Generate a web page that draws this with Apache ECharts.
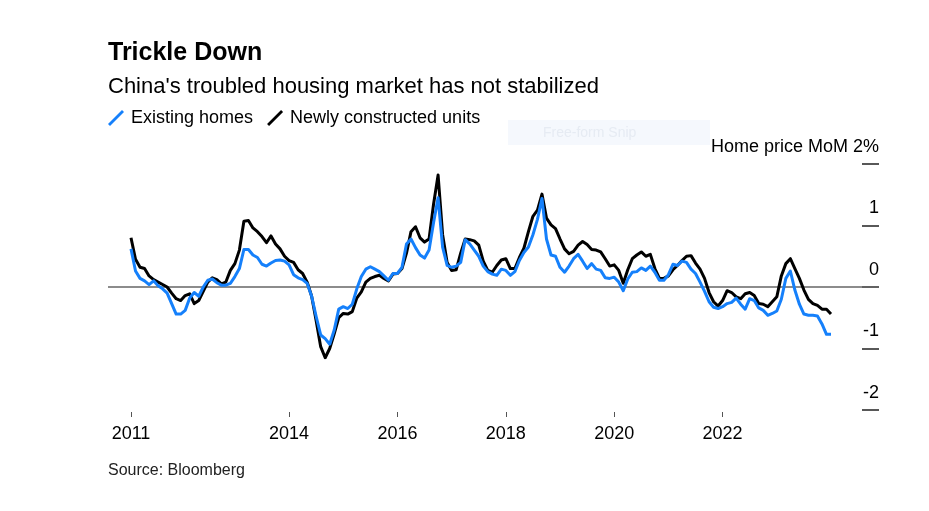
<!DOCTYPE html>
<html>
<head>
<meta charset="utf-8">
<script src="https://cdn.jsdelivr.net/npm/echarts@6/dist/echarts.min.js"></script>
<style>
html,body{margin:0;padding:0;background:#fff;}
#chart{width:929px;height:511px;}
</style>
</head>
<body>
<div id="chart"></div>
<script>
// Monthly categories: Feb 2011 .. Jan 2024
const months = [];
for (let y = 2011, m = 2; months.length < 156; ) {
  months.push(y + '-' + String(m).padStart(2, '0'));
  m++; if (m > 12) { m = 1; y++; }
}
const tickMonths = ['2011-02', '2014-01', '2016-01', '2018-01', '2020-01', '2022-01'];
const tickLabels = ['2011', '2014', '2016', '2018', '2020', '2022'];
const yTicks = [-2, -1, 0, 1, 2];

const existingHomes = [
  0.62,0.26,0.14,0.10,0.04,0.10,0.02,-0.03,-0.10,-0.27,
  -0.44,-0.44,-0.38,-0.18,-0.09,-0.15,0.00,0.11,0.13,0.07,
  0.03,0.03,0.06,0.17,0.30,0.61,0.61,0.52,0.48,0.37,
  0.34,0.39,0.43,0.44,0.42,0.36,0.20,0.15,0.12,0.06,
  -0.15,-0.48,-0.78,-0.84,-0.93,-0.70,-0.36,-0.32,-0.35,-0.28,
  -0.03,0.17,0.29,0.33,0.29,0.25,0.18,0.11,0.22,0.22,
  0.32,0.70,0.78,0.64,0.52,0.47,0.60,1.05,1.45,0.65,
  0.35,0.32,0.34,0.40,0.77,0.70,0.60,0.50,0.34,0.25,
  0.21,0.19,0.29,0.27,0.19,0.25,0.43,0.56,0.65,0.85,
  1.10,1.44,0.78,0.52,0.50,0.32,0.24,0.34,0.46,0.53,
  0.42,0.30,0.38,0.29,0.27,0.15,0.14,0.16,0.08,-0.06,
  0.13,0.24,0.25,0.31,0.27,0.34,0.24,0.11,0.11,0.20,
  0.37,0.35,0.42,0.40,0.29,0.22,0.08,-0.07,-0.24,-0.33,
  -0.35,-0.32,-0.27,-0.25,-0.18,-0.28,-0.36,-0.19,-0.22,-0.34,
  -0.38,-0.46,-0.43,-0.39,-0.20,0.14,0.26,-0.05,-0.28,-0.44,
  -0.46,-0.46,-0.47,-0.60,-0.77,-0.77
];
const newlyConstructed = [
  0.80,0.45,0.32,0.30,0.18,0.12,0.08,0.04,0.00,-0.10,
  -0.19,-0.22,-0.14,-0.11,-0.27,-0.22,-0.07,0.08,0.15,0.12,
  0.05,0.08,0.27,0.38,0.60,1.07,1.08,0.96,0.90,0.82,
  0.72,0.83,0.70,0.62,0.50,0.43,0.40,0.28,0.22,0.08,
  -0.15,-0.55,-0.97,-1.15,-1.00,-0.76,-0.50,-0.43,-0.44,-0.40,
  -0.18,-0.08,0.08,0.14,0.17,0.19,0.14,0.10,0.21,0.22,
  0.30,0.55,0.90,0.98,0.80,0.73,0.78,1.35,1.82,0.85,
  0.40,0.27,0.28,0.55,0.78,0.77,0.75,0.68,0.42,0.27,
  0.24,0.35,0.44,0.46,0.30,0.30,0.48,0.63,0.90,1.15,
  1.25,1.51,1.12,1.01,0.95,0.78,0.62,0.54,0.58,0.68,
  0.74,0.69,0.61,0.60,0.57,0.46,0.34,0.36,0.27,0.06,
  0.28,0.46,0.52,0.57,0.50,0.53,0.30,0.14,0.14,0.18,
  0.28,0.35,0.43,0.50,0.51,0.39,0.29,0.14,-0.09,-0.24,
  -0.31,-0.22,-0.06,-0.09,-0.16,-0.19,-0.11,-0.09,-0.14,-0.27,
  -0.28,-0.32,-0.24,-0.16,0.18,0.38,0.46,0.30,0.14,-0.05,
  -0.20,-0.27,-0.30,-0.36,-0.36,-0.44
];

const BLUE = '#1580fb';
const FONT = '"Liberation Sans", Arial, Helvetica, sans-serif';
const slashIcon = 'path://M0,14 L14,0 L16,2 L2,16 Z';
const tickIdx = tickMonths.map(m => months.indexOf(m));

const chart = echarts.init(document.getElementById('chart'), null, {renderer: 'canvas'});
chart.setOption({
  animation: false,
  backgroundColor: '#fff',
  textStyle: {fontFamily: FONT},
  title: [
    {text: 'Trickle Down', left: 108, top: 41, padding: 0,
     textStyle: {fontSize: 25, fontWeight: 'bold', color: '#000', lineHeight: 25, fontFamily: FONT}},
    {text: "China's troubled housing market has not stabilized", left: 108, top: 76, padding: 0,
     textStyle: {fontSize: 22, fontWeight: 'normal', color: '#000', lineHeight: 22, fontFamily: FONT}},
    {text: 'Source: Bloomberg', left: 108, top: 463, padding: 0,
     textStyle: {fontSize: 16, fontWeight: 'normal', color: '#222', lineHeight: 16, fontFamily: FONT}}
  ],
  legend: {
    left: 108, top: 109, itemWidth: 16, itemHeight: 16, itemGap: 14,
    padding: 0, selectedMode: false,
    itemStyle: {borderWidth: 0},
    textStyle: {fontSize: 18, color: '#000', fontFamily: FONT, padding: [0, 0, 0, 2]},
    data: [
      {name: 'Existing homes', icon: slashIcon},
      {name: 'Newly constructed units', icon: slashIcon}
    ]
  },
  graphic: [
    {type: 'rect', shape: {x: 508, y: 120, width: 202, height: 25},
     style: {fill: '#f5f8fd'}, silent: true, z: -10},
    {type: 'text', x: 543, y: 126,
     style: {text: 'Free-form Snip', fill: '#e6ebf3', fontSize: 14, fontFamily: FONT}, silent: true, z: -9}
  ],
  grid: [
    {left: 131, right: 98, top: 164, bottom: 101},
    {left: 108, right: 50, top: 164, bottom: 101}
  ],
  xAxis: [
    {
      type: 'category', gridIndex: 0, data: months, boundaryGap: false, offset: 2,
      axisLine: {show: false, onZero: false},
      axisTick: {show: true, length: 5, interval: (i) => tickIdx.includes(i),
                 lineStyle: {color: '#555', width: 1}},
      axisLabel: {
        show: true, interval: (i) => tickIdx.includes(i), margin: 13,
        fontSize: 18, color: '#000', fontFamily: FONT,
        formatter: (v) => { const k = tickMonths.indexOf(v); return k >= 0 ? tickLabels[k] : ''; }
      },
      splitLine: {show: false}
    },
    {type: 'value', gridIndex: 1, min: 0, max: 1, show: false, axisLine: {onZero: false}}
  ],
  yAxis: [
    {type: 'value', gridIndex: 0, min: yTicks[0], max: yTicks[yTicks.length - 1], show: false,
     axisLine: {onZero: false}},
    {
      type: 'value', gridIndex: 1, position: 'right',
      min: yTicks[0], max: yTicks[yTicks.length - 1], interval: 1,
      axisLine: {show: false, onZero: false},
      axisTick: {show: true, inside: true, length: 17, lineStyle: {color: '#222', width: 1.5}},
      axisLabel: {
        show: true, inside: true, margin: 0, fontSize: 18, color: '#000', fontFamily: FONT,
        verticalAlign: 'bottom', lineHeight: 34,
        formatter: (v) => v === yTicks[yTicks.length - 1] ? 'Home price MoM ' + v + '%' : String(v)
      },
      splitLine: {show: false}
    }
  ],
  series: [
    {
      name: 'zero', type: 'line', xAxisIndex: 1, yAxisIndex: 1, z: 1, silent: true,
      data: [[0, 0], [1, 0]], symbol: 'none',
      lineStyle: {color: '#666', width: 1.5}
    },
    {
      name: 'Newly constructed units', type: 'line', xAxisIndex: 0, yAxisIndex: 0, z: 3,
      data: newlyConstructed, symbol: 'none', silent: true,
      itemStyle: {color: '#000'},
      lineStyle: {color: '#000', width: 3, join: 'round'}
    },
    {
      name: 'Existing homes', type: 'line', xAxisIndex: 0, yAxisIndex: 0, z: 4,
      data: existingHomes, symbol: 'none', silent: true,
      itemStyle: {color: BLUE},
      lineStyle: {color: BLUE, width: 3, join: 'round'}
    }
  ]
});
</script>
</body>
</html>
